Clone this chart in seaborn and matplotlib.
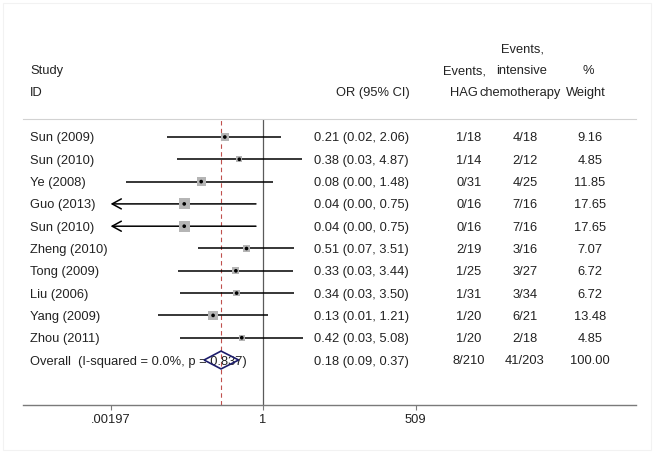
import matplotlib
matplotlib.use('Agg')

import numpy as np
import pandas as pd
import matplotlib.pyplot as plt
import matplotlib.transforms as mtransforms
import seaborn as sns

# --- data ---
studies = ['Sun (2009)', 'Sun (2010)', 'Ye (2008)', 'Guo (2013)', 'Sun (2010)',
           'Zheng (2010)', 'Tong (2009)', 'Liu (2006)', 'Yang (2009)', 'Zhou (2011)']
odds_ratio = [0.21, 0.38, 0.08, 0.04, 0.04, 0.51, 0.33, 0.34, 0.13, 0.42]
ci_low = [0.02, 0.03, 0.0037, 0.0015, 0.0015, 0.07, 0.031, 0.033, 0.0137, 0.034]
ci_high = [2.06, 4.87, 1.48, 0.75, 0.75, 3.51, 3.44, 3.50, 1.21, 5.08]
events_hag = ['1/18', '1/14', '0/31', '0/16', '0/16', '2/19', '1/25', '1/31', '1/20', '1/20']
events_intensive = ['4/18', '2/12', '4/25', '7/16', '7/16', '3/16', '3/27', '3/34', '6/21', '2/18']
weights = [9.16, 4.85, 11.85, 17.65, 17.65, 7.07, 6.72, 6.72, 13.48, 4.85]

overall_label = 'Overall  (I-squared = 0.0%, p = 0.837)'
overall_or, overall_low, overall_high = 0.18, 0.09, 0.37
overall_hag, overall_intensive, overall_weight = '8/210', '41/203', 100.00

tick_values = [0.00197, 1, 509]
tick_labels = ['.00197', '1', '509']

# --- layout (pixels of a 654x455 canvas) ---
W, H = 654, 455
AX_LEFT, AX_RIGHT = 23, 636
AX_TOP, AX_BOTTOM = 119, 405
PX_ONE = 263                       # position of OR = 1
PX_PER_LN = 152.5 / np.log(509)
ROW0_PX, ROW_STEP = 137, 22.3

def px_to_or(px):
    return np.exp((px - PX_ONE) / PX_PER_LN)

def px_to_row(py):
    return (py - ROW0_PX) / ROW_STEP

sns.set_theme(style='white')
plt.rcParams['font.family'] = ['Liberation Sans', 'DejaVu Sans']
FS = 9.3

fig = plt.figure(figsize=(W / 100, H / 100), dpi=100)
ax = fig.add_axes([AX_LEFT / W, (H - AX_BOTTOM) / H,
                   (AX_RIGHT - AX_LEFT) / W, (AX_BOTTOM - AX_TOP) / H])
ax.set_xscale('log')
ax.set_xlim(px_to_or(AX_LEFT), px_to_or(AX_RIGHT))
ax.set_ylim(px_to_row(AX_BOTTOM), px_to_row(AX_TOP))

df = pd.DataFrame({'study': studies, 'or': odds_ratio, 'lo': ci_low, 'hi': ci_high,
                   'hag': events_hag, 'intensive': events_intensive, 'weight': weights})
df['row'] = np.arange(len(df))

clip_lo, clip_hi = tick_values[0], tick_values[-1]

# reference lines
ax.axvline(1, color='#5a5a5a', lw=0.9, zorder=1)
ax.axvline(overall_or, color='#c0504d', lw=0.8, ls=(0, (4, 3)), zorder=1)

# confidence intervals
for _, r in df.iterrows():
    if r['lo'] < clip_lo:
        ax.annotate('', xy=(clip_lo, r['row']), xytext=(r['hi'], r['row']),
                    arrowprops=dict(arrowstyle='->,head_length=0.55,head_width=0.3',
                                    color='black', lw=1.1, mutation_scale=12,
                                    shrinkA=0, shrinkB=0), zorder=2)
    else:
        ax.plot([r['lo'], min(r['hi'], clip_hi)], [r['row'], r['row']],
                color='black', lw=1.1, solid_capstyle='butt', zorder=2)

# weight squares and point estimates
w_min, w_max = min(weights), max(weights)
s_max = 62
sns.scatterplot(data=df, x='or', y='row', size='weight',
                sizes=(s_max * w_min / w_max, s_max), marker='s',
                color='#b5b5b5', edgecolor='none', legend=False, ax=ax, zorder=3)
sns.scatterplot(data=df, x='or', y='row', marker='o', s=7, color='black',
                edgecolor='none', legend=False, ax=ax, zorder=4)

# overall diamond
orow = len(df)
ax.fill([overall_low, overall_or, overall_high, overall_or],
        [orow, orow - 0.4, orow, orow + 0.4],
        facecolor='none', edgecolor='#1c1c6b', lw=1.2, zorder=5)

# axis styling
for side in ['left', 'right']:
    ax.spines[side].set_visible(False)
ax.spines['top'].set_color('#d2d2d2')
ax.spines['top'].set_linewidth(0.8)
ax.spines['bottom'].set_color('#7a7a7a')
ax.spines['bottom'].set_linewidth(1.0)
ax.set_yticks([])
ax.set_xticks(tick_values)
ax.set_xticklabels(tick_labels, fontsize=FS, color='#222222')
ax.xaxis.set_minor_locator(matplotlib.ticker.NullLocator())
ax.tick_params(axis='x', which='major', direction='out', length=3.8, width=0.8,
               color='#7a7a7a', pad=3, bottom=True)
ax.set_xlabel('')
ax.set_ylabel('')
ax.grid(False)

# text columns
tr = mtransforms.blended_transform_factory(fig.transFigure, ax.transData)
def put(px, row, txt, ha):
    ax.text(px / W, row, txt, transform=tr, ha=ha, va='center_baseline',
            fontsize=FS, color='#222222', clip_on=False)

put(30, px_to_row(70), 'Study', 'left')
put(30, px_to_row(92), 'ID', 'left')
put(410, px_to_row(92), 'OR (95% CI)', 'right')
put(464, px_to_row(70), 'Events,', 'center')
put(464, px_to_row(92), 'HAG', 'center')
put(522, px_to_row(48), 'Events,', 'center')
put(522, px_to_row(70), 'intensive', 'center')
put(520, px_to_row(92), 'chemotherapy', 'center')
put(588, px_to_row(70), '%', 'center')
put(586, px_to_row(92), 'Weight', 'center')

for _, r in df.iterrows():
    put(30, r['row'], r['study'], 'left')
    put(409, r['row'], f"{r['or']:.2f} ({r['lo']:.2f}, {r['hi']:.2f})", 'right')
    put(469, r['row'], r['hag'], 'center')
    put(525, r['row'], r['intensive'], 'center')
    put(590, r['row'], f"{r['weight']:.2f}", 'center')

put(30, orow, overall_label, 'left')
put(409, orow, f"{overall_or:.2f} ({overall_low:.2f}, {overall_high:.2f})", 'right')
put(469, orow, overall_hag, 'center')
put(525, orow, overall_intensive, 'center')
put(590, orow, f"{overall_weight:.2f}", 'center')

# faint outer frame
fig.patches.append(plt.Rectangle((3 / W, 5 / H), 648 / W, 447 / H, transform=fig.transFigure,
                                 fill=False, edgecolor='#f2f2f2', lw=0.8))

fig.savefig('out.png', dpi=100)
